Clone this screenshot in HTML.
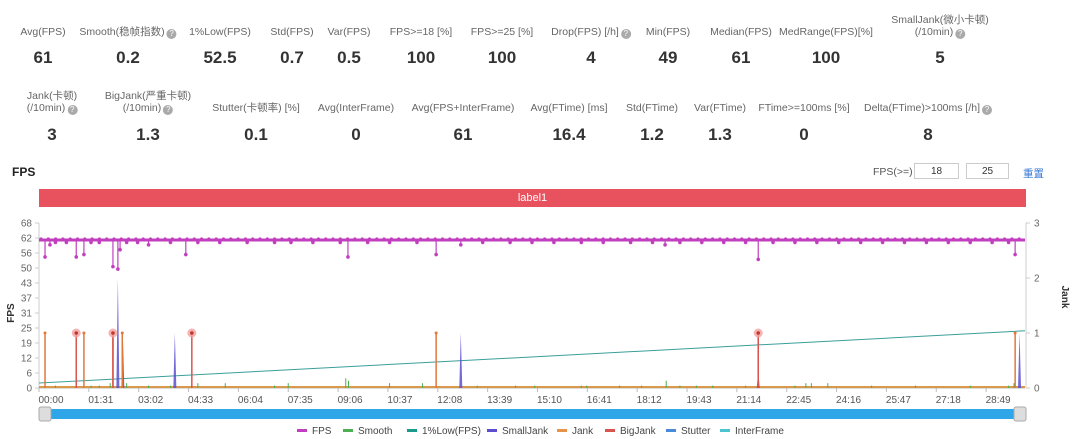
<!DOCTYPE html>
<html><head><meta charset="utf-8">
<style>
body{margin:0;width:1080px;height:439px;background:#fff;font-family:"Liberation Sans","Noto Sans CJK SC",sans-serif;overflow:hidden;position:relative}
.st{position:absolute;text-align:center;transform:translateX(-50%);white-space:nowrap}
.lb{font-size:10.5px;color:#666;line-height:12px}
.vl{font-size:17px;font-weight:bold;color:#333}
.q{display:inline-block;width:10px;height:10px;border-radius:50%;background:#aaa;color:#fff;font-size:8px;line-height:10px;text-align:center;vertical-align:-1px;margin-left:2px}
input{position:absolute;height:14px;border:1px solid #ccc;font-size:10px;text-align:center;padding:0;font-family:"Liberation Sans",sans-serif;color:#333}
</style></head><body>
<div id="stats"></div>
<div style="position:absolute;left:12px;top:165px;font-size:12px;font-weight:bold;color:#222">FPS</div>
<div style="position:absolute;left:873px;top:166px;font-size:10.5px;color:#555">FPS(>=)</div>
<input style="left:914px;top:163px;width:43px" value="18">
<input style="left:966px;top:163px;width:41px" value="25">
<div style="position:absolute;left:1023px;top:166px;font-size:10.5px;color:#3a7bd5">重置</div>
<div style="position:absolute;left:39px;top:189px;width:987px;height:18px;background:#e8525f;color:#fff;font-size:11px;text-align:center;line-height:18px">label1</div>
<svg id="ch" width="1080" height="439" style="position:absolute;left:0;top:0"></svg>
<script>
// ---- stats ----
const statLabels1=["Avg(FPS)","Smooth(稳帧指数)?","1%Low(FPS)","Std(FPS)","Var(FPS)","FPS>=18 [%]","FPS>=25 [%]","Drop(FPS) [/h]?","Min(FPS)","Median(FPS)","MedRange(FPS)[%]","SmallJank(微小卡顿)|(/10min)?"];
const statValues1=["61","0.2","52.5","0.7","0.5","100","100","4","49","61","100","5"];
const statX1=[43,128,220,292,349,421,502,591,668,741,826,940];
const statLabels2=["Jank(卡顿)|(/10min)?","BigJank(严重卡顿)|(/10min)?","Stutter(卡顿率) [%]","Avg(InterFrame)","Avg(FPS+InterFrame)","Avg(FTime) [ms]","Std(FTime)","Var(FTime)","FTime>=100ms [%]","Delta(FTime)>100ms [/h]?"];
const statValues2=["3","1.3","0.1","0","61","16.4","1.2","1.3","0","8"];
const statX2=[52,148,256,356,463,569,652,720,804,928];
function statRow(labels,vals,xs,ly,vy){
  const c=document.getElementById('stats');
  labels.forEach((l,i)=>{
    const q=l.endsWith('?');let t=q?l.slice(0,-1):l;
    const parts=t.split('|');
    const d=document.createElement('div');d.className='st lb';
    
    
    d.style.left=xs[i]+'px';d.style.top=(parts.length>1?ly-12:ly)+'px';
    d.innerHTML=parts.join('<br>')+(q?'<span class="q">?</span>':'');
    c.appendChild(d);
    const v=document.createElement('div');v.className='st vl';
    
    
    v.style.left=xs[i]+'px';v.style.top=vy+'px';v.textContent=vals[i];c.appendChild(v);
  });
}
statRow(statLabels1,statValues1,statX1,26,48);
statRow(statLabels2,statValues2,statX2,102,125);

// ---- chart data ----
const duration=1800;
const fpsBase=61;
const fpsDipT=[11,20,30,50,68,82,95,110,135,144,148,160,180,200,240,268,290,330,380,430,460,500,550,564,600,640,690,725,770,810,860,900,940,990,1030,1080,1120,1143,1170,1210,1250,1290,1313,1340,1380,1420,1460,1500,1540,1580,1620,1660,1700,1740,1770,1782];
const fpsDipV=[54,59,60,60,54,55,60,60,50,49,57,60,60,59,60,55,60,60,60,60,60,60,60,54,60,60,60,55,59,60,60,60,60,60,60,60,60,59,60,60,60,60,53,60,60,60,60,60,60,60,60,60,60,60,60,55];
const smoothT=[11,30,95,110,130,160,200,240,290,340,430,455,560,565,640,700,800,870,905,990,1000,1060,1100,1145,1170,1200,1230,1290,1380,1400,1410,1440,1520,1600,1700,1770,1780];
const smoothV=[2,1,1,1,2,2,1,1,2,2,1,2,4,3,2,2,1,1,1,1,1,1,1,3,1,1,1,1,1,2,2,2,1,1,1,1,2];
const jankT=[11,82,135,152,725,1313,1782];
const jankV=[1,1,1,1,1,1,1];
const bigJankT=[68,135,279,1313];
const bigJankV=[1,1,1,1];
const smallJankT=[144,153,248,770,1313,1790];
const smallJankV=[2,1,1,1,0.3,1];
const interT=[0,1800];
const interV=[0.09,1.04];
const fpsTicks=[0,6,12,19,25,31,37,43,50,56,62,68];
const jankTicks=[0,1,2,3];
const xTickLabels=["00:00","01:31","03:02","04:33","06:04","07:35","09:06","10:37","12:08","13:39","15:10","16:41","18:12","19:43","21:14","22:45","24:16","25:47","27:18","28:49"];
const xTickStep=91;

// ---- axes ----
const L=39,R=1025,T=223,B=388;
const xs=t=>L+t/duration*(R-L);
const yF=v=>B-v/68*(B-T);
const yJ=v=>B-v/3*(B-T);
const svg=document.getElementById('ch');
const NS='http://www.w3.org/2000/svg';
function el(tag,a,txt){const e=document.createElementNS(NS,tag);for(const k in a)e.setAttribute(k,a[k]);if(txt!==undefined)e.textContent=txt;svg.appendChild(e);return e;}

let e;
e=el('line',{x1:L,y1:T,x2:L,y2:B,stroke:'#ccc'});


e=el('line',{x1:R+1,y1:T,x2:R+1,y2:B,stroke:'#ccc'});


fpsTicks.forEach((v,i)=>{
  el('line',{x1:L-4,y1:yF(68*i/11),x2:L,y2:yF(68*i/11),stroke:'#ccc'});
  e=el('text',{x:L-7,y:yF(68*i/11)+3.5,'text-anchor':'end','font-size':10,fill:'#666'},v);
  
  
});
jankTicks.forEach(v=>{
  el('line',{x1:R+1,y1:yJ(v),x2:R+5,y2:yJ(v),stroke:'#ccc'});
  e=el('text',{x:R+9,y:yJ(v)+3.5,'font-size':10,fill:'#666'},v);
  
  
});
e=el('text',{x:14,y:313,'font-size':10,'font-weight':'bold',fill:'#333','text-anchor':'middle',transform:'rotate(-90 14 313)'},'FPS');


e=el('text',{x:1062,y:297,'font-size':10,'font-weight':'bold',fill:'#333','text-anchor':'middle',transform:'rotate(90 1062 297)'},'Jank');


el('line',{x1:L,y1:B,x2:R,y2:B,stroke:'#bbb'});
xTickLabels.forEach((s,i)=>{
  const x=xs(i*xTickStep);
  el('line',{x1:x,y1:B,x2:x,y2:B+4,stroke:'#bbb'});
  e=el('text',{x:x+12,y:403,'text-anchor':'middle','font-size':10,fill:'#555'},s);
  
  
});

// interframe line
e=el('line',{x1:xs(interT[0]),y1:yJ(interV[0]),x2:xs(interT[1]),y2:yJ(interV[1]),stroke:'#3a9e9a','stroke-width':1});


// baselines
el('line',{x1:L,y1:B-1,x2:R,y2:B-1,stroke:'#d89a4a','stroke-width':2});
// smooth
smoothT.forEach((t,i)=>{
  e=el('line',{x1:xs(t),y1:B,x2:xs(t),y2:yF(smoothV[i]),stroke:'#4caf50','stroke-width':1});
  
  
});
// small jank
smallJankT.forEach((t,i)=>{
  const x=xs(t);
  e=el('polygon',{points:`${x-1.5},${B} ${x},${yJ(smallJankV[i])} ${x+1.5},${B}`,fill:'#5b4fd0',opacity:0.85});
  
  
});
// jank
jankT.forEach((t,i)=>{
  const x=xs(t);
  e=el('line',{x1:x,y1:B,x2:x,y2:yJ(jankV[i]),stroke:'#e07a3c','stroke-width':1.5});
  
  
  el('circle',{cx:x,cy:yJ(jankV[i]),r:1.5,fill:'#e07a3c'});
});
// big jank
bigJankT.forEach((t,i)=>{
  const x=xs(t),y=yJ(bigJankV[i]);
  el('line',{x1:x,y1:B,x2:x,y2:y,stroke:'#d9534f','stroke-width':1.5});
  e=el('circle',{cx:x,cy:y,r:4.5,fill:'#f2a0a0',opacity:0.8});
  
  
  el('circle',{cx:x,cy:y,r:1.8,fill:'#c0392b'});
});
// FPS line
const yb=yF(fpsBase);
e=el('line',{x1:L,y1:yb,x2:R,y2:yb,stroke:'#c13fbf','stroke-width':3});


for(let x=L+2;x<R;x+=7.3){el('circle',{cx:x,cy:yb-1,r:1.6,fill:'#c13fbf'});}
fpsDipT.forEach((t,i)=>{
  const x=xs(t),y=yF(fpsDipV[i]);
  el('line',{x1:x,y1:yb,x2:x,y2:y,stroke:'#c13fbf','stroke-width':1.2});
  e=el('circle',{cx:x,cy:y,r:1.8,fill:'#c13fbf'});
  
  
});

// slider
e=el('rect',{x:L,y:409,width:R-L,height:10,fill:'#2fa6e8',rx:2});


[[39,'slider-handle-left'],[1014,'slider-handle-right']].forEach(([x,n])=>{
  e=el('rect',{x:x,y:407,width:12,height:14,fill:'#ddd',stroke:'#aaa',rx:2});
  
  
});

// legend
const legendNames=["FPS","Smooth","1%Low(FPS)","SmallJank","Jank","BigJank","Stutter","InterFrame"];
const legendColors=["#c13fbf","#4caf50","#1a9a8a","#5b4fd0","#e8934a","#d9534f","#4a8ad8","#4cc3d0"];
const legendX=[297,343,407,487,557,605,666,720];
legendNames.forEach((n,i)=>{
  const x=legendX[i];
  e=el('rect',{x:x,y:429,width:10,height:3,fill:legendColors[i]});
  
  
  el('text',{x:x+15,y:434,'font-size':10,fill:'#444'},n);
});
</script>
</body></html>
